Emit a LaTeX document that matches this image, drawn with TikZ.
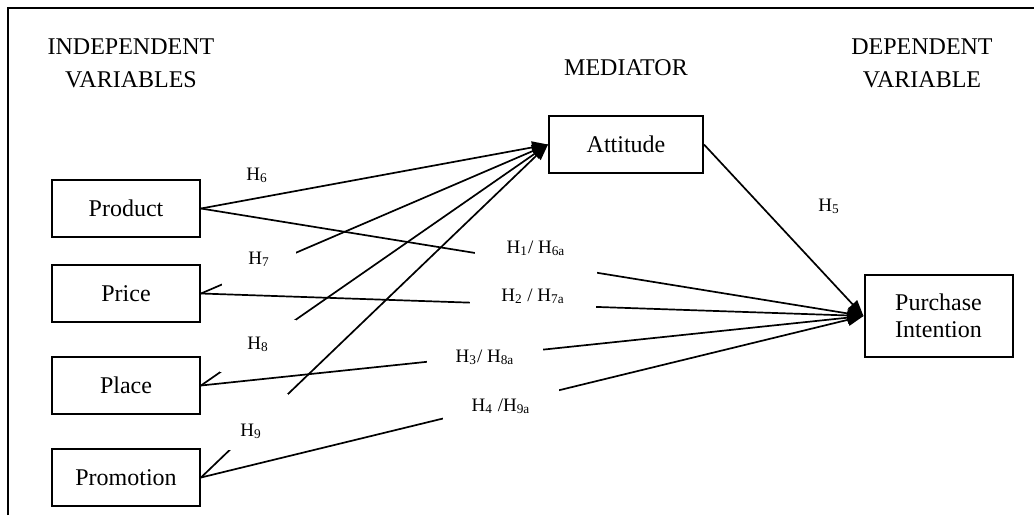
\documentclass[tikz,border=0pt]{standalone}
\usepackage{fontspec}
\setmainfont{Liberation Serif}
\usetikzlibrary{arrows.meta}

\newcommand{\hsub}[1]{H\textsubscript{#1}}
\tikzstyle{varbox} = [rectangle, draw, line width=1pt, minimum width=74pt, minimum height=28.5pt, align=center, font=\fontsize{12}{13.5}\selectfont]
\tikzstyle{heading} = [align=center, font=\fontsize{12}{16.5}\selectfont]
\tikzstyle{hyp} = [fill=white, inner sep=0pt, anchor=base, font=\fontsize{9.5}{11}\selectfont]
\tikzstyle{link} = [line width=0.85pt, -{Triangle[length=8pt, width=6pt]}]

\begin{document}
\begin{tikzpicture}[x=0.5pt, y=-0.5pt]
  \useasboundingbox (0, 0) rectangle (1034, 515);
  \draw[line width=1pt] (8, 515) -- (8, 8) -- (1034, 8);

  \node[heading] (indep) at (131, 63.5) {INDEPENDENT\\VARIABLES};
  \node[heading] (medi) at (626, 68) {MEDIATOR};
  \node[heading] (dep) at (922, 63.5) {DEPENDENT\\VARIABLE};

  \foreach \n\t\y in {prod/Product/208.5, price/Price/293.5, place/Place/385.5, promo/Promotion/477.5} {
    \node[varbox] (\n) at (126, \y) {\t};
  }
  \node[varbox, minimum width=77pt] (att) at (626, 144.5) {Attitude};
  \node[varbox, minimum height=41pt] (pi) at (938.5, 316) {Purchase\\Intention};

  \foreach \n in {prod, price, place, promo} {
    \draw[link] (\n.east) -- (att.west);
    \draw[link] (\n.east) -- (pi.west);
  }
  \draw[link] (att.east) -- (pi.west);

  % hypothesis labels (white boxes hide parts of the lines)
  \node[hyp, inner sep=1pt] (h6) at (257, 180) {\hsub{6}};
  \node[hyp, minimum width=37pt, text height=6.5pt, text depth=11.5pt] (h7) at (259, 264) {\hsub{7}};
  \node[hyp, minimum width=38pt, text height=14.5pt, text depth=11.5pt] (h8) at (258, 349) {\hsub{8}};
  \node[hyp, minimum width=37pt, text height=21pt, text depth=7pt] (h9) at (251, 436) {\hsub{9}};
  \node[hyp, inner sep=1pt] (h5) at (829, 211) {\hsub{5}};
  \node[hyp, minimum width=61pt, text height=6.5pt, text depth=11.5pt] (h1) at (536, 253) {\hsub{1}/ \hsub{6a}};
  \node[hyp, minimum width=63pt, text height=7pt, text depth=5.5pt] (h2) at (533, 301) {\hsub{2} / \hsub{7a}};
  \node[hyp, minimum width=58pt, text height=11pt, text depth=4pt] (h3) at (485, 362) {\hsub{3}/ \hsub{8a}};
  \node[hyp, minimum width=58pt, text height=13pt, text depth=7pt] (h4) at (501, 411) {\hsub{4} /\hsub{9a}};
\end{tikzpicture}
\end{document}
